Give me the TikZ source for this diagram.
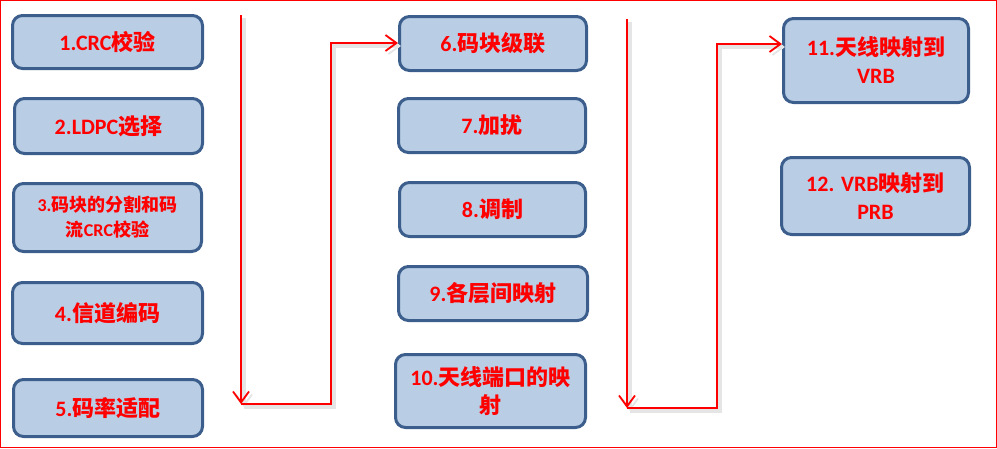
\documentclass[tikz,border=0pt]{standalone}
\usepackage{fontspec}
\setmainfont{Carlito}
\newfontfamily\cjk{Noto Sans CJK SC}
\newcommand{\zh}[1]{{\cjk #1}}
\usetikzlibrary{arrows.meta}
\definecolor{boxfill}{HTML}{B9CDE5}
\definecolor{boxline}{HTML}{3B5E8C}

\begin{document}
\begin{tikzpicture}[x=1pt,y=-1pt,
  blk/.style={draw=boxline, fill=boxfill, line width=3pt, rounded corners=10pt,
    text=red, font=\bfseries\fontsize{22}{28}\selectfont, align=center, inner sep=0pt},
  flow/.style={draw=red, line width=1.8pt,
    preaction={draw=black!10, line width=4pt, transform canvas={shift={(3pt,-3pt)}}}},
  tip/.style={-{Straight Barb[length=11pt,width=16pt,line width=1.8pt]}}
]

\useasboundingbox (0,0) rectangle (997,448);
\draw[red, line width=1pt] (0.5,0.5) rectangle (996.5,447.5);

% Left column
\node[blk, minimum width=190pt, minimum height=53pt] (b1) at (107.5,42) {1.CRC\zh{校验}};
\node[blk, minimum width=188pt, minimum height=55pt] (b2) at (108.5,126) {2.LDPC\zh{选择}};
\node[blk, minimum width=188pt, minimum height=68pt, font=\bfseries\fontsize{18}{25}\selectfont] (b3) at (107.5,217.5) {3.\zh{码块的分割和码}\\\zh{流}CRC\zh{校验}};
\node[blk, minimum width=190pt, minimum height=61pt] (b4) at (107.5,313) {4.\zh{信道编码}};
\node[blk, minimum width=189pt, minimum height=57pt] (b5) at (108,408) {5.\zh{码率适配}};

% Middle column
\node[blk, minimum width=187pt, minimum height=54pt] (b6) at (493,43.5) {6.\zh{码块级联}};
\node[blk, minimum width=187pt, minimum height=54pt] (b7) at (492,125.5) {7.\zh{加扰}};
\node[blk, minimum width=186pt, minimum height=54pt] (b8) at (492.5,209.5) {8.\zh{调制}};
\node[blk, minimum width=189pt, minimum height=54pt] (b9) at (493,293.5) {9.\zh{各层间映射}};
\node[blk, minimum width=190pt, minimum height=73pt] (b10) at (490.5,391) {10.\zh{天线端口的映}\\\zh{射}};

% Right column
\node[blk, minimum width=185pt, minimum height=84pt] (b11) at (876,60.5) {11.\zh{天线映射到}\\VRB};
\node[blk, minimum width=188pt, minimum height=77pt] (b12) at (875.5,196) {12. VRB\zh{映射到}\\PRB};

% Flow lines
\coordinate (t1) at (241,15);
\coordinate (c1) at (241,404);
\coordinate (c2) at (331,404);
\coordinate (c3) at (331,43);
\coordinate (t2) at (627,19);
\coordinate (c4) at (627,408);
\coordinate (c5) at (717,408);
\coordinate (c6) at (717,44);

\draw[flow, tip] (t1) -- (c1);
\draw[flow, tip] (c1) -- (c2) -- (c3) -- (c3 -| b6.west);
\draw[flow, tip] (t2) -- (c4);
\draw[flow, tip] (c4) -- (c5) -- (c6) -- (c6 -| b11.west);

\end{tikzpicture}
\end{document}
